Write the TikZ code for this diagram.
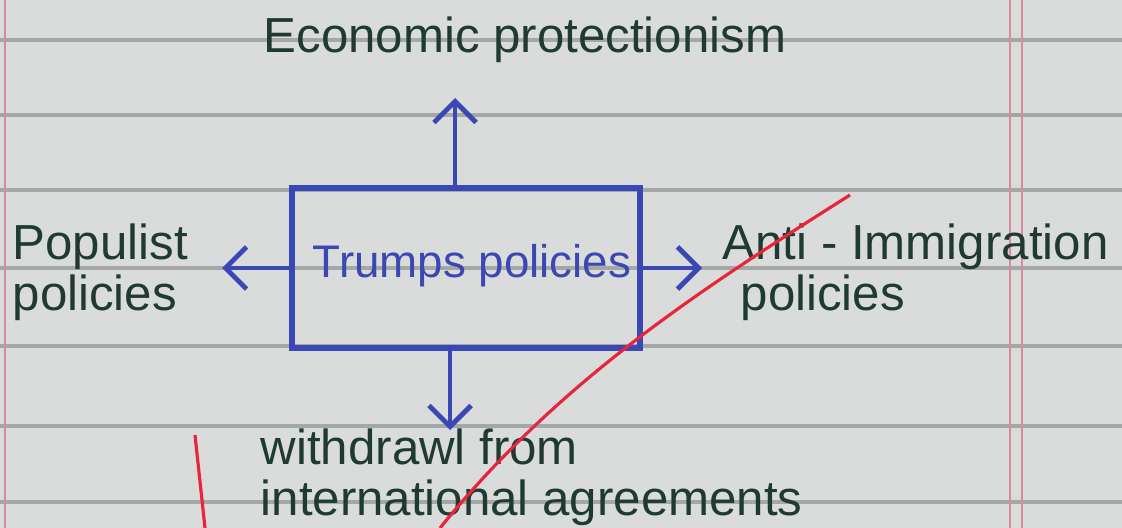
\documentclass[tikz,border=0pt]{standalone}
\usepackage{fontspec}
\setmainfont{Liberation Sans}
\usetikzlibrary{arrows.meta}
\definecolor{paper}{HTML}{D9DCDA}
\definecolor{rule}{HTML}{A3A8A6}
\definecolor{margin}{HTML}{D98A9C}
\definecolor{ink}{HTML}{1F3A30}
\definecolor{blueink}{HTML}{3B47B5}
\definecolor{redink}{HTML}{E8253A}
\newlength{\pxu}
\setlength{\pxu}{0.01cm}
\tikzset{
  ruleline/.style={rule, line width=0.9pt},
  marginline/.style={margin, line width=0.8pt},
  penmark/.style={redink, line width=0.9pt},
  bluebox/.style={draw=blueink, line width=1.5pt, minimum width=348\pxu, minimum height=160\pxu, inner sep=0pt},
  conn/.style={blueink, line width=1.4pt, -{Straight Barb[length=6pt,width=12pt,line width=1.4pt]}},
  lbl/.style={ink, font=\fontsize{14}{14.5}\selectfont, inner sep=0pt},
  boxtxt/.style={blueink, font=\fontsize{13}{14}\selectfont, inner sep=0pt}
}
\begin{document}
\begin{tikzpicture}[x=0.01cm, y=-0.01cm]
\useasboundingbox (0,0) rectangle (1122,528);
\fill[paper] (0,0) rectangle (1122,528);
% ruled lines
\foreach \yy in {40,115,190,268,346,426,502}
  \draw[ruleline] (0,\yy) -- (1122,\yy);
% margins
\draw[marginline] (5,0) -- (5,528);
\draw[marginline] (1010,0) -- (1010,528);
\draw[marginline] (1022,0) -- (1022,528);
% central box
\node[bluebox] (box) at (466,268) {};
\node[boxtxt] (boxlabel) at (472,266) {Trumps policies};
% labels
\node[lbl, anchor=center] (econ) at (525,40) {Economic protectionism};
\node[lbl, anchor=west, align=left] (pop) at (12,272) {Populist\\policies};
\node[lbl, anchor=west, align=left] (anti) at (722,272) {Anti - Immigration\\\hspace{18\pxu}policies};
\node[lbl, anchor=west, align=left] (withd) at (260,477) {withdrawl from\\international agreements};
% connector end points
\coordinate (up) at (455,98);
\coordinate (left) at (222,268);
\coordinate (right) at (702,268);
\coordinate (down) at (450,430);
\draw[conn] (box.north -| up) -- (up);
\draw[conn] (box.west) -- (left);
\draw[conn] (box.east) -- (right);
\draw[conn] (box.south -| down) -- (down);
% red pen marks
\draw[penmark] (850,195) .. controls (700,290) and (560,380) .. (440,528);
\draw[penmark] (195,435) -- (205,528);
\end{tikzpicture}
\end{document}
